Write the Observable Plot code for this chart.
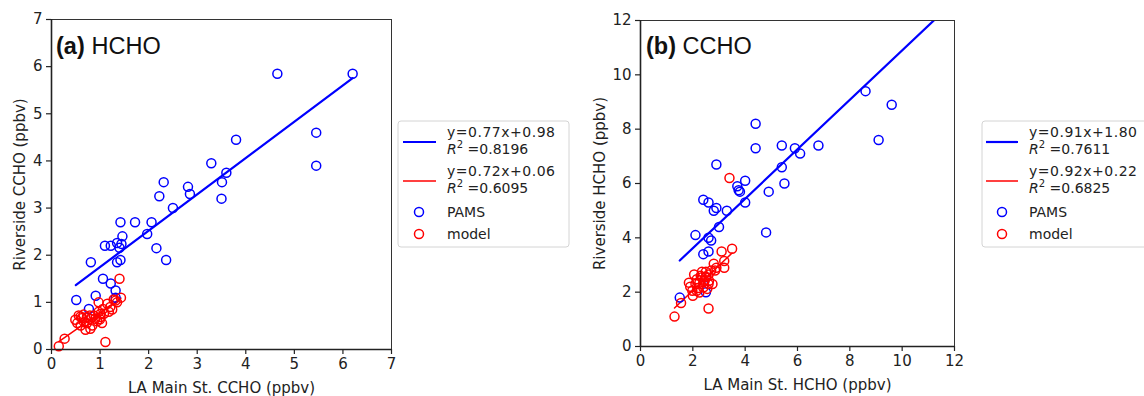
<!DOCTYPE html>
<html><head><meta charset="utf-8">
<script src="https://cdn.jsdelivr.net/npm/d3@7"></script>
<script src="https://cdn.jsdelivr.net/npm/@observablehq/plot@0.6"></script>
<style>
html,body{margin:0;padding:0;background:#fff;overflow:hidden;}
#wrap{position:relative;width:1144px;height:396px;overflow:hidden;font-family:"DejaVu Sans",sans-serif;}
#wrap > svg{position:absolute;top:0;}
</style></head><body><div id="wrap"></div>
<script>
// ---------- Panel (a) HCHO ----------
const tagA = "(a)", speciesA = "HCHO";
const xLabelA = "LA Main St. CCHO (ppbv)", yLabelA = "Riverside CCHO (ppbv)";
const ticksA = [0, 1, 2, 3, 4, 5, 6, 7];
const pamsA_x = [4.65, 6.2, 5.45, 5.45, 3.8, 3.29, 3.6, 3.51, 2.31, 2.81, 2.85, 2.22, 3.5, 2.5, 1.42, 1.72, 2.06, 1.97, 1.46, 1.1, 1.22, 1.35, 1.44, 1.4, 2.16, 0.81, 1.35, 1.42, 2.36, 1.06, 1.22, 1.32, 0.51, 0.91, 1.32, 0.77];
const pamsA_y = [5.85, 5.85, 4.6, 3.9, 4.45, 3.95, 3.75, 3.55, 3.55, 3.45, 3.3, 3.25, 3.2, 3.0, 2.7, 2.7, 2.7, 2.45, 2.4, 2.2, 2.2, 2.26, 2.24, 2.16, 2.15, 1.85, 1.85, 1.9, 1.9, 1.5, 1.4, 1.25, 1.05, 1.14, 1.1, 0.86];
const modelA_x = [1.4, 0.15, 0.27, 1.11, 1.43, 1.28, 1.35, 0.97, 1.15, 1.06, 1.25, 1.18, 0.97, 0.87, 1.01, 0.56, 0.63, 0.73, 0.8, 0.67, 0.53, 0.6, 0.73, 0.84, 0.94, 1.04, 0.7, 0.8, 0.9, 1.08, 1.21, 1.32, 0.49, 0.79, 0.66, 1.01, 0.6, 1.0];
const modelA_y = [1.5, 0.07, 0.23, 0.16, 1.1, 1.06, 1.0, 1.0, 0.97, 0.86, 0.85, 0.8, 0.8, 0.72, 0.69, 0.72, 0.67, 0.69, 0.65, 0.58, 0.56, 0.51, 0.56, 0.51, 0.6, 0.56, 0.42, 0.44, 0.65, 0.76, 0.9, 1.04, 0.63, 0.72, 0.74, 0.76, 0.7, 0.64];
const fitA_pams = [0.77, 0.98], fitA_pams_r2 = "0.8196", fitA_pams_range = [0.5, 6.2];
const fitA_model = [0.72, 0.06], fitA_model_r2 = "0.6095", fitA_model_range = [0.15, 1.43];

// ---------- Panel (b) CCHO ----------
const tagB = "(b)", speciesB = "CCHO";
const xLabelB = "LA Main St. HCHO (ppbv)", yLabelB = "Riverside HCHO (ppbv)";
const ticksB = [0, 2, 4, 6, 8, 10, 12];
const pamsB_x = [8.6, 9.6, 9.1, 6.8, 4.4, 4.4, 5.4, 5.9, 6.1, 5.4, 5.5, 4.9, 2.9, 3.7, 4.0, 3.75, 3.8, 2.4, 2.6, 2.9, 2.8, 3.3, 4.0, 3.0, 2.1, 2.6, 2.7, 4.8, 2.4, 2.6, 1.5, 2.5, 2.5];
const pamsB_y = [9.4, 8.9, 7.6, 7.4, 8.2, 7.3, 7.4, 7.3, 7.1, 6.6, 6.0, 5.7, 6.7, 5.9, 6.1, 5.75, 5.7, 5.4, 5.3, 5.1, 5.0, 5.0, 5.3, 4.4, 4.1, 4.0, 3.9, 4.2, 3.4, 3.5, 1.8, 2.0, 2.55];
const modelB_x = [1.3, 1.55, 2.6, 3.5, 3.1, 3.2, 3.2, 2.8, 2.7, 2.85, 2.6, 2.75, 2.5, 2.35, 2.05, 1.9, 2.0, 2.15, 2.25, 2.45, 2.1, 2.2, 1.98, 2.4, 2.6, 2.15, 2.35, 2.5, 2.62, 2.4, 2.25, 2.9, 2.55, 3.4, 1.85, 2.3];
const modelB_y = [1.1, 1.6, 1.4, 3.6, 3.5, 3.15, 2.9, 3.05, 2.8, 2.8, 2.65, 2.3, 2.75, 2.75, 2.65, 2.2, 1.87, 2.05, 2.35, 2.42, 2.3, 2.15, 2.05, 2.17, 2.3, 2.48, 2.55, 2.57, 2.42, 2.36, 1.99, 2.9, 2.12, 6.2, 2.35, 2.6];
const fitB_pams = [0.91, 1.80], fitB_pams_r2 = "0.7611", fitB_pams_range = [1.5, 12];
const fitB_model = [0.92, 0.22], fitB_model_r2 = "0.6825", fitB_model_range = [1.3, 3.5];

const seriesNames = ["PAMS", "model"];
const BLUE = "#0000ff", RED = "#ff0000", INK = "#222";

const zip = (xs, ys) => xs.map((x, i) => ({x, y: ys[i]}));
const fitLine = (fit, range) => range.map(x => ({x, y: fit[0] * x + fit[1]}));
const intFmt = d3.format("d");

function panel(c) {
  return Plot.plot({
    width: c.width, height: 396,
    marginLeft: c.ml, marginRight: c.mr, marginTop: c.mt, marginBottom: c.mb,
    x: {domain: [c.ticks[0], c.ticks[c.ticks.length - 1]]},
    y: {domain: [c.ticks[0], c.ticks[c.ticks.length - 1]]},
    style: {fontFamily: "DejaVu Sans", fontSize: "15px", color: INK, background: "transparent", overflow: "visible"},
    marks: [
      Plot.line(fitLine(c.fitP, c.rangeP), {x: "x", y: "y", stroke: BLUE, strokeWidth: 2.2, clip: true}),
      Plot.line(fitLine(c.fitM, c.rangeM), {x: "x", y: "y", stroke: RED, strokeWidth: 1.5, clip: true}),
      Plot.dot(zip(c.px, c.py), {x: "x", y: "y", r: 4.5, stroke: BLUE, strokeWidth: 1.5, fill: "none"}),
      Plot.dot(zip(c.mx, c.my), {x: "x", y: "y", r: 4.5, stroke: RED, strokeWidth: 1.5, fill: "none"}),
      Plot.frame({stroke: "#333", strokeWidth: 1}),
      Plot.ruleX([c.ticks[0]], {stroke: INK, strokeWidth: 1.6}),
      Plot.ruleY([c.ticks[0]], {stroke: INK, strokeWidth: 1.6}),
      Plot.axisX({ticks: c.ticks, tickFormat: intFmt, tickSize: 5, tickPadding: 4, fontSize: 15, label: null, stroke: INK, strokeWidth: 1.2}),
      Plot.axisY({ticks: c.ticks, tickFormat: intFmt, tickSize: 5, tickPadding: 4, fontSize: 15, label: null, stroke: INK, strokeWidth: 1.2}),
      Plot.text([c.tag], {text: d => d, frameAnchor: "top-left", dx: c.tagDx, dy: c.tagDy, textAnchor: "start", lineAnchor: "bottom",
        fontFamily: "Liberation Sans", fontWeight: "bold", fontSize: 23.5, fill: "#111"}),
      Plot.text([c.species], {text: d => d, frameAnchor: "top-left", dx: c.spDx, dy: c.tagDy, textAnchor: "start", lineAnchor: "bottom",
        fontFamily: "Liberation Sans", fontSize: 23.5, fill: "#111"}),
      Plot.text([c.xlabel], {text: d => d, frameAnchor: "bottom", dy: 43, textAnchor: "middle", lineAnchor: "bottom", fontSize: 15, fill: INK}),
      Plot.text([c.ylabel], {text: d => d, frameAnchor: "left", dx: c.ylDx, rotate: -90, textAnchor: "middle", lineAnchor: "bottom", fontSize: 15, fill: INK})
    ]
  });
}

const wrap = document.getElementById("wrap");
const pa = panel({width: 400, ml: 51, mr: 9, mt: 19, mb: 47, ticks: ticksA,
  px: pamsA_x, py: pamsA_y, mx: modelA_x, my: modelA_y,
  fitP: fitA_pams, rangeP: fitA_pams_range, fitM: fitA_model, rangeM: fitA_model_range,
  tag: tagA, species: speciesA, tagDx: 4.5, spDx: 40, tagDy: 34, xlabel: xLabelA, ylabel: yLabelA, ylDx: -27});
pa.style.left = "0px";
wrap.appendChild(pa);

const pb = panel({width: 400, ml: 60, mr: 26, mt: 20, mb: 50, ticks: ticksB,
  px: pamsB_x, py: pamsB_y, mx: modelB_x, my: modelB_y,
  fitP: fitB_pams, rangeP: fitB_pams_range, fitM: fitB_model, rangeM: fitB_model_range,
  tag: tagB, species: speciesB, tagDx: 5.5, spDx: 42, tagDy: 33, xlabel: xLabelB, ylabel: yLabelB, ylDx: -36});
pb.style.left = "580px";
wrap.appendChild(pb);

// ---------- Legends ----------
const overlay = d3.create("svg").attr("width", 1144).attr("height", 396)
  .style("left", "0px").style("position", "absolute").style("top", "0px")
  .attr("font-family", "DejaVu Sans").attr("font-size", 14).attr("fill", INK);
wrap.appendChild(overlay.node());

function legend(L, fitP, r2P, fitM, r2M) {
  const g = overlay.append("g");
  g.append("rect").attr("x", L.x).attr("y", 121).attr("width", 171).attr("height", 126).attr("rx", 3)
    .attr("fill", "#fff").attr("stroke", "#d4d4d4").attr("stroke-width", 1);
  const rows = [[fitP, r2P, BLUE, 2.2, 142, 137], [fitM, r2M, RED, 1.5, 181, 176]];
  for (const [fit, r2, col, w, ly, tb] of rows) {
    g.append("line").attr("x1", L.x + L.lx0).attr("x2", L.x + L.lx1).attr("y1", ly).attr("y2", ly)
      .attr("stroke", col).attr("stroke-width", w);
    g.append("text").attr("x", L.x + L.tx).attr("y", tb).attr("textLength", 108).attr("lengthAdjust", "spacing")
      .text(`y=${fit[0].toFixed(2)}x+${fit[1].toFixed(2)}`);
    const t = g.append("text").attr("x", L.x + L.tx).attr("y", tb + 17);
    t.append("tspan").attr("font-style", "italic").text("R");
    t.append("tspan").attr("font-size", 10).attr("dy", -6).text("2");
    t.append("tspan").attr("dy", 6).text(" =" + r2);
  }
  const pts = [[seriesNames[0], BLUE, 212, 217], [seriesNames[1], RED, 234, 239]];
  for (const [name, col, cy, tb] of pts) {
    g.append("circle").attr("cx", L.x + L.cx).attr("cy", cy).attr("r", 4.5)
      .attr("fill", "none").attr("stroke", col).attr("stroke-width", 1.5);
    g.append("text").attr("x", L.x + L.tx).attr("y", tb).text(name);
  }
}
legend({x: 398, lx0: 5, lx1: 38, tx: 49, cx: 21}, fitA_pams, fitA_pams_r2, fitA_model, fitA_model_r2);
legend({x: 982, lx0: 4, lx1: 36, tx: 47, cx: 20}, fitB_pams, fitB_pams_r2, fitB_model, fitB_model_r2);
</script></body></html>
